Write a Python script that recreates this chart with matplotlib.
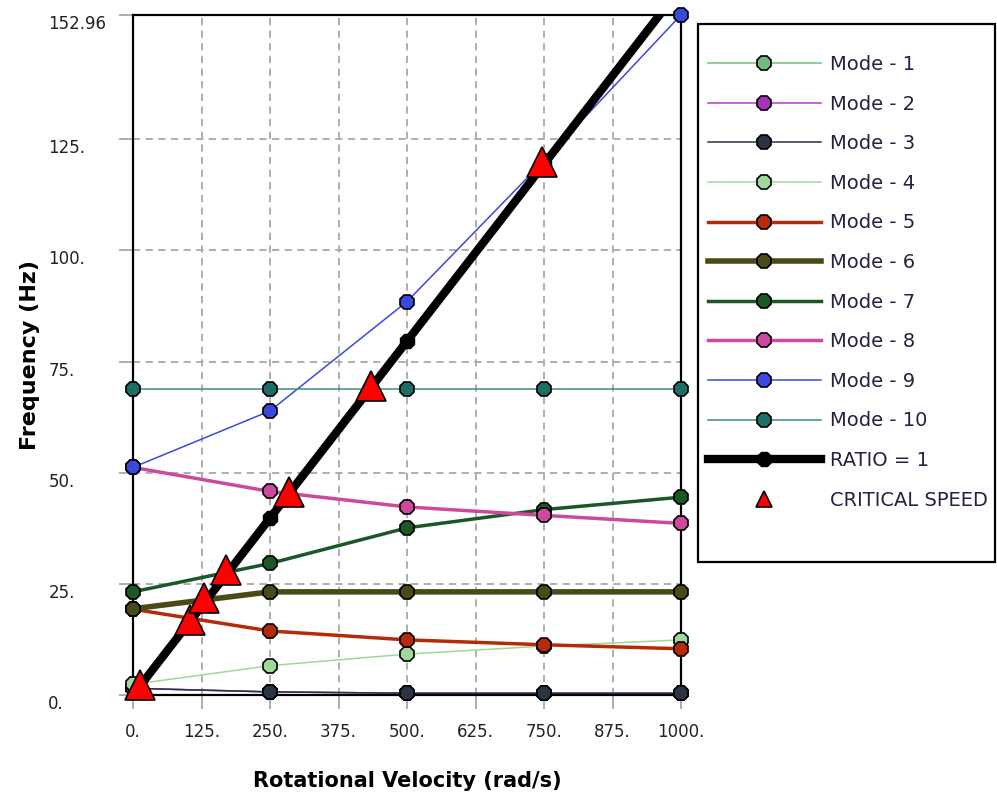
import matplotlib
matplotlib.use('Agg')
import matplotlib.pyplot as plt
from matplotlib.lines import Line2D
from matplotlib.patches import Rectangle

# Campbell diagram data
speeds = [0, 250, 500, 750, 1000]
mode1 = [1.5, 0.7, 0.4, 0.4, 0.4]
mode2 = [1.5, 0.7, 0.4, 0.4, 0.4]
mode3 = [1.5, 0.7, 0.4, 0.4, 0.4]
mode4 = [2.4, 6.6, 9.2, 11.0, 12.4]
mode5 = [19.3, 14.4, 12.4, 11.3, 10.4]
mode6 = [19.4, 23.2, 23.2, 23.2, 23.2]
mode7 = [23.2, 29.6, 37.6, 41.7, 44.5]
mode8 = [51.2, 45.8, 42.3, 40.4, 38.6]
mode9 = [51.2, 63.9, 88.5, 120.2, 152.96]
mode10 = [68.8, 68.8, 68.8, 68.8, 68.8]
ratio = [0, 39.8, 79.6, 119.4, 159.2]

crit_speed = [13, 104, 130, 170, 285, 434, 746]
crit_freq = [2.2, 16.9, 21.8, 28.1, 45.7, 69.5, 120.0]

mode_labels = ['Mode - %d' % i for i in range(1, 11)]
xticks = [0, 125, 250, 375, 500, 625, 750, 875, 1000]
yticks = [0, 25, 50, 75, 100, 125, 152.96]
ytick_labels = ['0.', '25.', '50.', '75.', '100.', '125.', '152.96']

modes = [mode1, mode2, mode3, mode4, mode5, mode6, mode7, mode8, mode9, mode10]
line_cols = ['#6CC083', '#B43CC8', '#2A3344', '#9ED89A', '#B52A08',
             '#4A4A18', '#1B5826', '#CC4A9E', '#3A48E0', '#3C8C88']
mark_cols = ['#6DBE7D', '#A632B8', '#2A3344', '#9ED89A', '#B52A08',
             '#4A4A18', '#1B5826', '#CC4A9E', '#3A48E0', '#1E6E68']
widths = [1.1, 1.1, 1.1, 1.1, 2.5, 4.0, 2.5, 2.5, 1.1, 1.1]

plt.rcParams['font.family'] = 'DejaVu Sans'
fig = plt.figure(figsize=(9.97, 8.02), dpi=100)
ax = fig.add_axes([133 / 997, 107 / 802, 548 / 997, 680 / 802])

handles = []
for vals, lab, lc, mc, lw in zip(modes, mode_labels, line_cols, mark_cols, widths):
    h, = ax.plot(speeds, vals, color=lc, lw=lw, marker='8', ms=10.5,
                 mfc=mc, mec='black', mew=1.2, label=lab, clip_on=False, zorder=3)
    handles.append(h)

h, = ax.plot(speeds, ratio, color='black', lw=6, marker='8', ms=10.5,
             mfc='black', mec='black', label='RATIO = 1', zorder=4)
handles.append(h)

ax.plot(crit_speed, crit_freq, linestyle='none', marker='^', ms=21,
        mfc='#FF0000', mec='black', mew=1.2, clip_on=False, zorder=5)
handles.append(Line2D([], [], linestyle='none', marker='^', ms=12,
                      mfc='#FF0000', mec='black', mew=1.2, label='CRITICAL SPEED'))

ax.set_xlim(0, 1000)
ax.set_ylim(0, 152.96)
ax.set_xticks(xticks)
ax.set_xticklabels(['%d.' % v for v in xticks])
ax.set_yticks(yticks)
ax.set_yticklabels(ytick_labels)

ax.grid(True, color='#A8A8A8', linestyle=(0, (4, 3)), lw=1.3)
ax.set_axisbelow(True)
for s in ax.spines.values():
    s.set_linewidth(1.6)
    s.set_color('black')

ax.tick_params(axis='both', direction='out', length=10, width=1.2,
               color='#A0A0A0', labelsize=12, labelcolor='#222222')
ax.tick_params(axis='x', pad=10)
ax.tick_params(axis='y', pad=51)
for t in ax.get_yticklabels():
    t.set_horizontalalignment('left')
    t.set_verticalalignment('top')

ax.set_xlabel('Rotational Velocity (rad/s)', fontsize=15, fontweight='bold', va='center')
ax.xaxis.set_label_coords(0.5, -0.126)
ax.set_ylabel('Frequency (Hz)', fontsize=16, fontweight='bold', va='center')
ax.yaxis.set_label_coords(-0.188, 0.5)

# legend box
fig.patches.append(Rectangle((698 / 997, 1 - 562 / 802), 297 / 997, 538 / 802,
                             transform=fig.transFigure, facecolor='white',
                             edgecolor='black', lw=1.6))
fig.legend(handles=handles, loc='upper left', bbox_to_anchor=(708 / 997, 1 - 55 / 802),
           frameon=False, fontsize=14, handlelength=5.8, handletextpad=0.45,
           labelspacing=1.06, borderpad=0, borderaxespad=0, numpoints=1,
           labelcolor='#222244')

fig.savefig('out.png', dpi=100)
